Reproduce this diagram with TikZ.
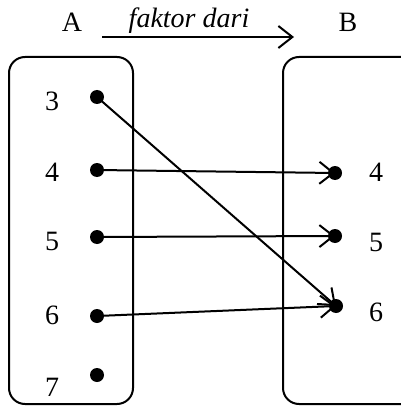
\documentclass[tikz,border=0pt]{standalone}
\usepackage{fontspec}
\setmainfont{Liberation Serif}
\usetikzlibrary{arrows.meta}
\tikzset{
  dot/.style={circle,fill,inner sep=0pt,minimum size=14pt},
  num/.style={font=\fontsize{28}{32}\selectfont},
  map/.style={-{Straight Barb[length=14pt,width=22pt,line width=2pt]},line width=2pt},
}
\begin{document}
\begin{tikzpicture}[x=1pt,y=-1pt]
      \useasboundingbox (0,0) rectangle (400,406);
      \node[num] (A) at (72,22){A};
      \node[num] (B) at (348,22){B};
      \node[num,font=\fontsize{28}{32}\selectfont\itshape] (rel) at (189,21){faktor dari};
      \coordinate (relS) at (102,37);
      \coordinate (relE) at (294,37);
      \draw (relS) edge[map] (relE);

      % the two sets
      \draw[line width=2pt,rounded corners=16pt] (9,57) rectangle (133,404);
      \draw[line width=2pt,rounded corners=16pt] (283,57) rectangle (440,404);

      % set A
      \node[num] (n3) at (52,101){3};
      \node[num] (n4) at (52,172){4};
      \node[num] (n5) at (52,241){5};
      \node[num] (n6) at (52,315){6};
      \node[num] (n7) at (52,387){7};
      \node[dot] (a3) at (97,97){};
      \node[dot] (a4) at (97,170){};
      \node[dot] (a5) at (97,237){};
      \node[dot] (a6) at (97,316){};
      \node[dot] (a7) at (97,375){};

      % set B
      \node[dot] (b4) at (335,173){};
      \node[dot] (b5) at (335,236){};
      \node[dot] (b6) at (336,306){};
      \node[num] (m4) at (376,172){4};
      \node[num] (m5) at (376,242){5};
      \node[num] (m6) at (376,312){6};

      \draw (a3.center) edge[map] (b6.center);
      \draw (a4.center) edge[map] (b4.center);
      \draw (a5.center) edge[map] (b5.center);
      \draw (a6.center) edge[map] (b6.center);
    \end{tikzpicture}
\end{document}
